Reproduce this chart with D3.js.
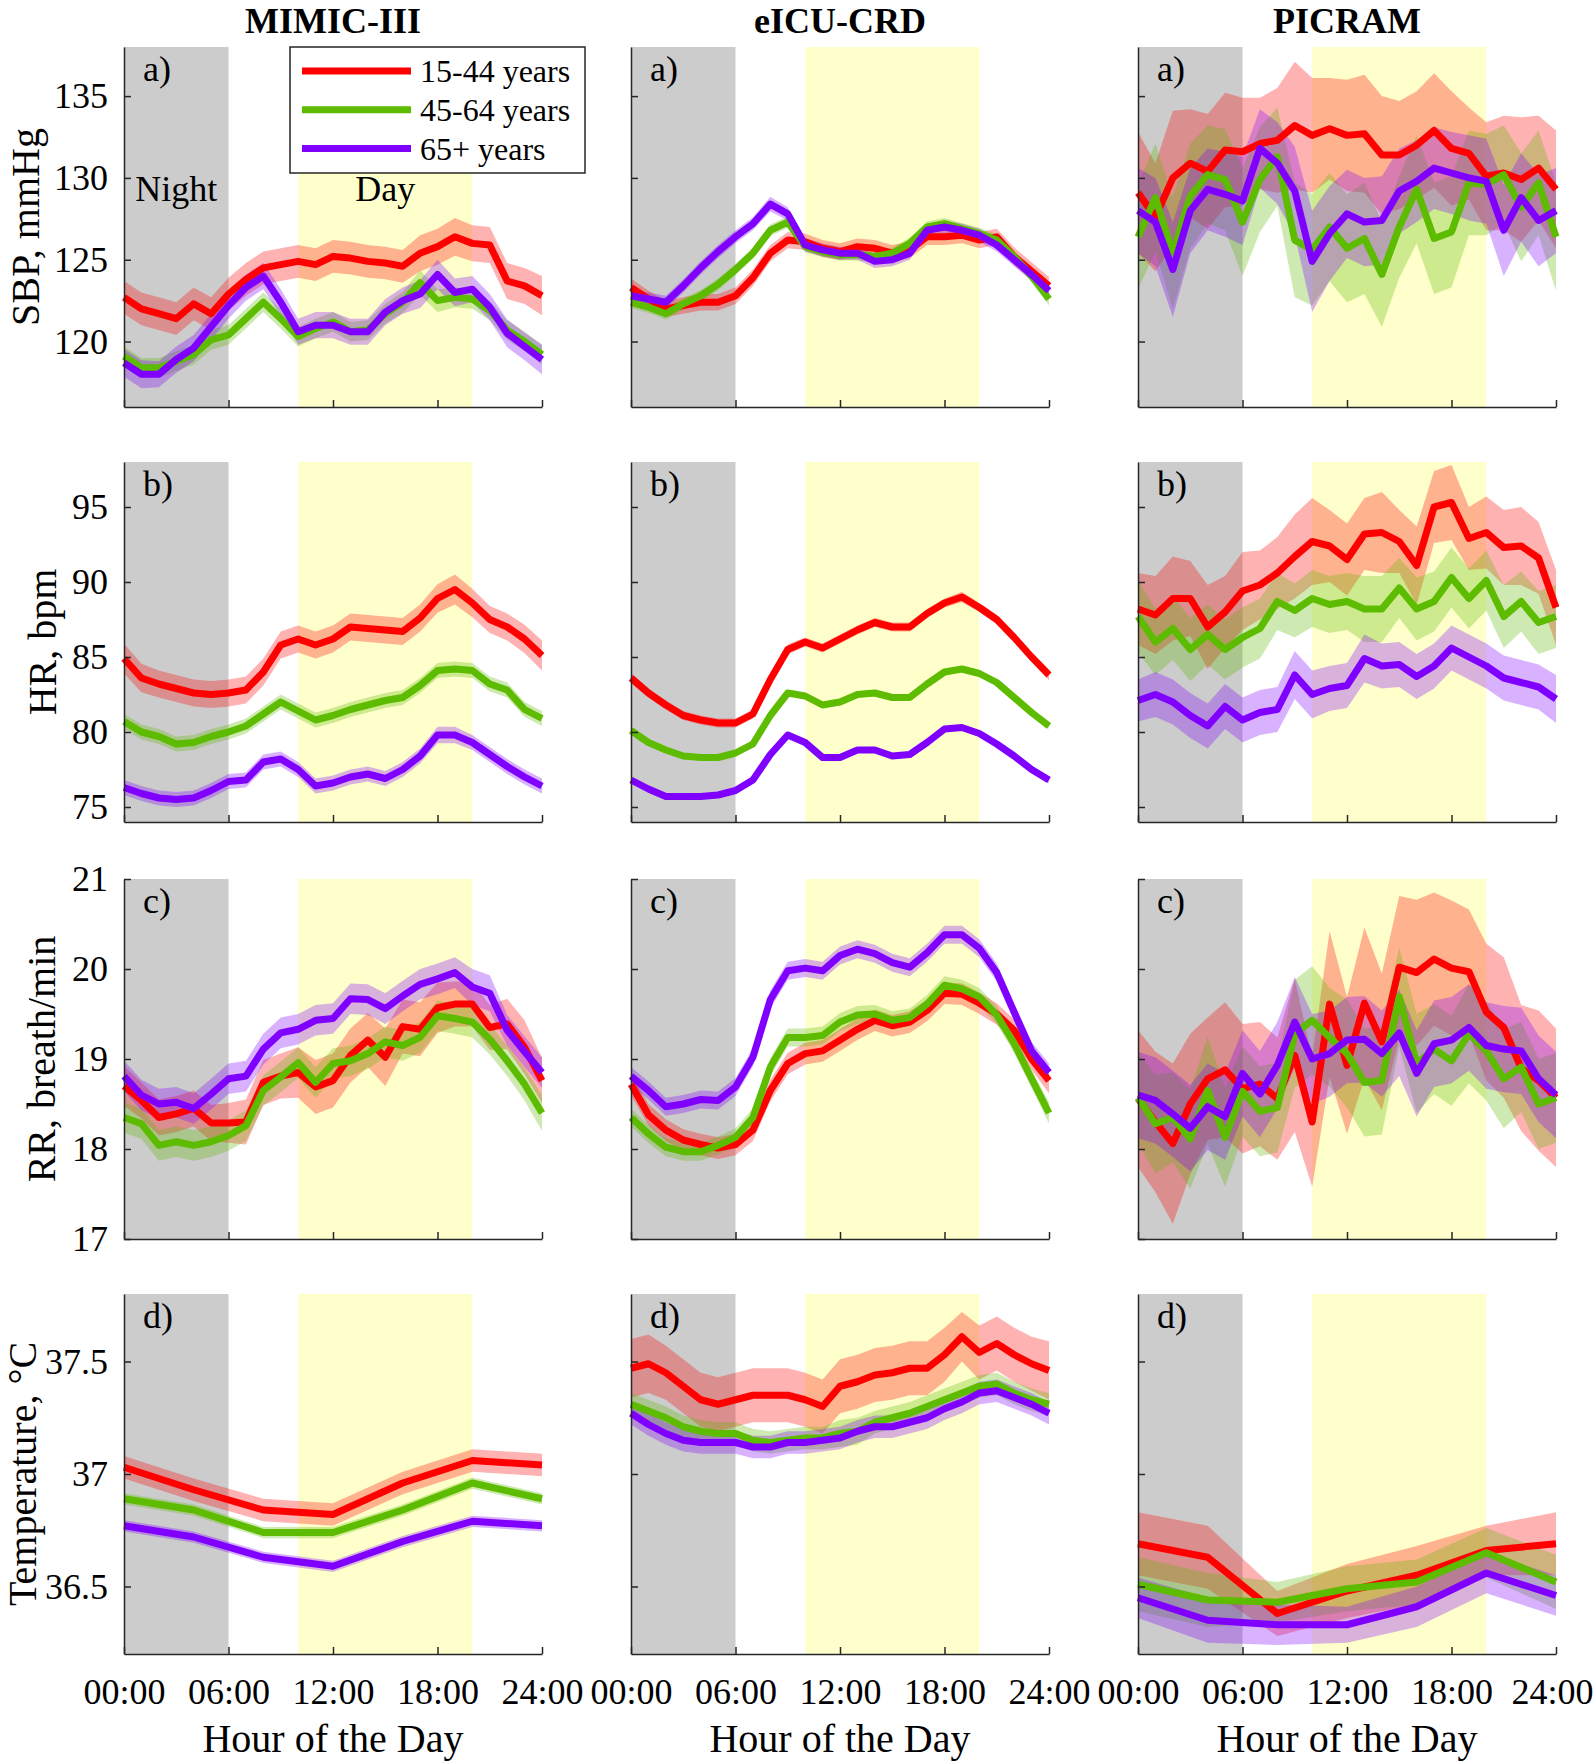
<!DOCTYPE html>
<html>
<head>
<meta charset="utf-8">
<script src="https://cdn.jsdelivr.net/npm/d3@7"></script>
<style>
  body { margin: 0; background: #fff; }
</style>
</head>
<body>
<script>
////////////////////////////////////////////////////////////////////////
// Data

let datasets = ["MIMIC-III", "eICU-CRD", "PICRAM"];
let ageGroups = ["15-44 years", "45-64 years", "65+ years"];
let vitalLabels = ["SBP, mmHg", "HR, bpm", "RR, breath/min", "Temperature, \u00B0C"];
let panelLetters = ["a)", "b)", "c)", "d)"];

let hours = [0,1,2,3,4,5,6,7,8,9,10,11,12,13,14,15,16,17,18,19,20,21,22,23,24];
let hours4 = [0,4,8,12,16,20,24];
let xTickValues = [0,6,12,18,24];
let xTickLabels = ["00:00","06:00","12:00","18:00","24:00"];
let nightSpan = [0,6];
let daySpan = [10,20];

let yDomains = [[116,138],[74,98],[17,21],[36.2,37.8]];
let yTicks = [[120,125,130,135],[75,80,85,90,95],[17,18,19,20,21],[36.5,37,37.5]];

// ---- SBP
let sbpMimic15 = [122.7,122.0,121.7,121.4,122.3,121.7,122.9,123.8,124.5,124.7,124.9,124.7,125.2,125.1,124.9,124.8,124.6,125.4,125.8,126.4,126.0,125.9,123.7,123.4,122.8];
let sbpMimic45 = [119.1,118.4,118.4,118.8,119.2,120.1,120.4,121.4,122.4,121.4,120.3,120.8,121.2,120.6,120.7,121.7,122.4,123.6,122.5,122.7,122.6,121.9,120.7,120.0,119.2];
let sbpMimic65 = [118.7,118.0,118.0,118.9,119.6,120.9,122.2,123.3,124.0,122.4,120.6,121.0,121.0,120.6,120.6,121.8,122.5,122.9,124.1,123.0,123.2,122.1,120.5,119.7,118.9];
let sbpMimic15Ci = [1.0,1.0,1.0,1.0,1.0,1.0,1.0,1.0,1.0,1.0,1.0,1.0,1.0,1.0,1.0,1.0,1.0,1.1,1.1,1.15,1.1,1.1,1.1,1.1,1.2];
let sbpMimic45Ci = [0.6,0.6,0.6,0.6,0.6,0.6,0.6,0.6,0.6,0.6,0.6,0.6,0.6,0.6,0.6,0.6,0.65,0.75,0.7,0.6,0.6,0.6,0.6,0.6,0.6];
let sbpMimic65Ci = [0.85,0.85,0.8,0.8,0.8,0.8,0.8,0.8,0.8,0.8,0.8,0.8,0.8,0.8,0.8,0.8,0.8,0.85,0.9,0.85,0.8,0.8,0.85,0.85,0.9];

let sbpEicu15 = [123.3,122.6,122.0,122.2,122.4,122.4,122.8,123.9,125.4,126.2,126.1,125.7,125.5,125.8,125.7,125.4,125.6,126.4,126.4,126.5,126.2,126.4,125.2,124.3,123.4];
let sbpEicu45 = [122.4,122.1,121.7,122.3,122.8,123.5,124.4,125.4,126.8,127.3,125.8,125.5,125.3,125.3,125.2,125.4,126.0,127.0,127.2,126.9,126.6,126.2,125.2,124.0,122.6];
let sbpEicu65 = [122.8,122.6,122.4,123.4,124.5,125.5,126.4,127.2,128.4,127.8,125.9,125.6,125.4,125.4,124.9,125.0,125.4,126.8,127.0,126.8,126.5,125.9,125.0,124.1,123.1];
let sbpEicu15Ci = [0.55,0.5,0.5,0.5,0.5,0.5,0.5,0.5,0.5,0.5,0.5,0.5,0.5,0.5,0.5,0.5,0.5,0.5,0.5,0.5,0.5,0.5,0.55,0.55,0.55];
let sbpEicu45Ci = [0.35,0.35,0.35,0.35,0.35,0.35,0.35,0.35,0.35,0.35,0.35,0.35,0.35,0.35,0.35,0.35,0.35,0.35,0.35,0.35,0.35,0.35,0.35,0.35,0.4];
let sbpEicu65Ci = [0.4,0.4,0.4,0.4,0.4,0.4,0.4,0.4,0.45,0.4,0.4,0.4,0.4,0.4,0.4,0.4,0.4,0.4,0.4,0.4,0.4,0.4,0.4,0.4,0.4];

let sbpPicram15 = [129.1,127.6,130.0,130.9,130.4,131.7,131.6,132.1,132.3,133.2,132.6,133.0,132.6,132.7,131.4,131.4,132.0,132.9,131.8,131.5,130.1,130.3,129.9,130.6,129.3];
let sbpPicram45 = [126.4,128.8,125.4,128.9,130.2,129.9,127.3,129.9,131.3,126.2,125.6,127.0,125.7,126.3,124.1,127.0,129.3,126.3,126.7,129.7,129.6,130.2,128.2,129.7,126.4];
let sbpPicram65 = [128.0,127.3,124.4,128.0,129.3,129.0,128.6,131.8,130.9,129.2,124.9,126.6,127.8,127.3,127.4,129.2,129.8,130.6,130.3,130.0,129.8,126.8,128.8,127.4,128.0];
let sbpPicram15Ci = [3.7,3.3,4.1,3.3,3.5,3.5,3.3,2.8,3.2,3.9,3.5,3.1,3.4,3.6,3.6,3.3,3.3,3.5,3.5,2.8,3.3,3.5,3.8,3.2,3.6];
let sbpPicram45Ci = [3.2,3.3,3.4,3.2,3.0,3.1,3.3,3.2,3.0,3.5,3.4,3.3,3.3,3.4,3.2,3.1,3.3,3.4,3.4,3.2,3.1,3.0,3.3,3.2,3.3];
let sbpPicram65Ci = [2.6,2.7,2.9,2.6,2.5,2.6,2.7,2.4,2.5,2.7,3.1,2.9,2.7,2.7,2.7,2.6,2.5,2.5,2.5,2.6,2.6,2.8,2.7,2.8,2.6];

// ---- HR
let hrMimic15 = [84.9,83.6,83.2,82.9,82.6,82.5,82.6,82.8,84.0,85.8,86.2,85.8,86.2,87.0,86.9,86.8,86.7,87.6,88.9,89.5,88.6,87.5,87.0,86.2,85.1];
let hrMimic45 = [80.7,80.0,79.7,79.2,79.3,79.7,80.0,80.4,81.2,82.0,81.4,80.8,81.1,81.5,81.8,82.1,82.3,83.1,84.1,84.2,84.1,83.2,82.8,81.5,80.9];
let hrMimic65 = [76.3,75.9,75.6,75.5,75.6,76.1,76.7,76.8,78.0,78.2,77.5,76.4,76.6,77.0,77.2,76.9,77.5,78.4,79.8,79.8,79.3,78.5,77.7,77.0,76.4];
let hrMimic15Ci = [1.0,0.95,0.9,0.9,0.9,0.9,0.9,0.9,0.9,0.9,0.9,0.9,0.9,0.9,0.9,0.9,0.9,0.9,0.95,1.0,0.95,0.9,0.9,0.95,1.0];
let hrMimic45Ci = [0.5,0.5,0.5,0.5,0.5,0.5,0.5,0.5,0.5,0.5,0.5,0.5,0.5,0.5,0.5,0.5,0.5,0.5,0.5,0.5,0.5,0.5,0.5,0.5,0.5];
let hrMimic65Ci = [0.5,0.5,0.5,0.5,0.5,0.5,0.5,0.5,0.5,0.5,0.5,0.5,0.5,0.5,0.5,0.5,0.5,0.5,0.55,0.55,0.5,0.5,0.5,0.5,0.5];

let hrEicu15 = [83.6,82.6,81.8,81.1,80.8,80.6,80.6,81.2,83.5,85.5,86.0,85.6,86.2,86.8,87.3,87.0,87.0,87.9,88.6,89.0,88.3,87.5,86.3,85.0,83.8];
let hrEicu45 = [80.1,79.3,78.8,78.4,78.3,78.3,78.6,79.2,81.1,82.6,82.4,81.8,82.0,82.5,82.6,82.3,82.3,83.2,84.0,84.2,83.9,83.3,82.3,81.3,80.4];
let hrEicu65 = [76.8,76.2,75.7,75.7,75.7,75.8,76.1,76.8,78.5,79.8,79.3,78.3,78.3,78.8,78.8,78.4,78.5,79.3,80.2,80.3,79.9,79.2,78.4,77.5,76.8];
let hrEicu15Ci = [0.35,0.3,0.3,0.3,0.3,0.3,0.3,0.3,0.3,0.35,0.3,0.3,0.3,0.3,0.3,0.3,0.3,0.3,0.3,0.35,0.3,0.3,0.3,0.3,0.35];
let hrEicu45Ci = [0.2,0.2,0.2,0.2,0.2,0.2,0.2,0.2,0.2,0.2,0.2,0.2,0.2,0.2,0.2,0.2,0.2,0.2,0.2,0.2,0.2,0.2,0.2,0.2,0.2];
let hrEicu65Ci = [0.2,0.2,0.2,0.2,0.2,0.2,0.2,0.2,0.2,0.2,0.2,0.2,0.2,0.2,0.2,0.2,0.2,0.2,0.2,0.2,0.2,0.2,0.2,0.2,0.2];

let hrPicram15 = [88.2,87.8,88.9,88.9,87.0,88.0,89.4,89.8,90.6,91.7,92.7,92.4,91.5,93.2,93.3,92.7,91.1,95.0,95.3,92.9,93.3,92.3,92.4,91.6,88.3];
let hrPicram45 = [87.7,86.0,86.9,85.5,86.5,85.5,86.3,86.9,88.7,88.1,88.9,88.5,88.7,88.2,88.2,89.6,88.2,88.7,90.3,88.9,90.1,87.7,88.7,87.3,87.7];
let hrPicram65 = [82.1,82.5,82.0,81.1,80.4,81.7,80.8,81.3,81.5,83.8,82.5,82.9,83.1,84.9,84.4,84.5,83.7,84.4,85.6,85.0,84.4,83.6,83.3,83.0,82.2];
let hrPicram15Ci = [2.4,2.6,2.8,2.5,2.8,2.4,2.6,2.3,2.4,2.8,2.9,2.4,2.4,2.4,2.7,2.1,2.6,2.4,2.5,2.1,2.4,2.5,2.6,2.4,2.5];
let hrPicram45Ci = [2.4,2.2,2.1,2.1,2.0,2.0,2.0,2.0,1.9,1.8,1.9,1.9,1.9,2.2,2.2,2.0,2.1,2.0,2.0,2.0,2.0,2.1,2.0,2.1,2.1];
let hrPicram65Ci = [1.4,1.5,1.5,1.5,1.5,1.5,1.5,1.5,1.5,1.6,1.6,1.5,1.5,1.6,1.5,1.5,1.5,1.5,1.5,1.5,1.5,1.5,1.5,1.5,1.6];

// ---- RR
let rrMimic15 = [18.70,18.54,18.35,18.39,18.45,18.29,18.29,18.30,18.74,18.81,18.85,18.69,18.76,19.04,19.21,19.02,19.36,19.33,19.57,19.61,19.61,19.35,19.39,19.13,18.76];
let rrMimic45 = [18.35,18.28,18.04,18.08,18.04,18.08,18.15,18.26,18.65,18.80,18.96,18.74,18.95,18.98,19.06,19.19,19.15,19.24,19.48,19.45,19.41,19.22,18.98,18.72,18.40];
let rrMimic65 = [18.81,18.60,18.50,18.52,18.45,18.61,18.78,18.81,19.11,19.29,19.33,19.43,19.45,19.67,19.66,19.56,19.70,19.83,19.89,19.96,19.80,19.73,19.32,19.08,18.85];
let rrMimic15Ci = [0.22,0.2,0.2,0.2,0.2,0.2,0.22,0.25,0.25,0.25,0.28,0.3,0.3,0.3,0.3,0.32,0.3,0.3,0.28,0.25,0.25,0.25,0.28,0.3,0.25];
let rrMimic45Ci = [0.17,0.17,0.17,0.17,0.17,0.17,0.17,0.17,0.17,0.17,0.17,0.17,0.17,0.17,0.17,0.17,0.17,0.17,0.17,0.17,0.17,0.17,0.17,0.18,0.2];
let rrMimic65Ci = [0.17,0.17,0.17,0.17,0.17,0.17,0.17,0.17,0.17,0.17,0.17,0.17,0.17,0.17,0.17,0.17,0.17,0.17,0.17,0.17,0.2,0.2,0.17,0.17,0.17];

let rrEicu15 = [18.72,18.38,18.21,18.10,18.05,18.01,18.05,18.21,18.65,18.95,19.06,19.09,19.21,19.33,19.43,19.37,19.41,19.54,19.73,19.72,19.62,19.50,19.32,19.00,18.76];
let rrEicu45 = [18.35,18.17,18.02,17.97,17.97,18.04,18.13,18.35,18.91,19.24,19.24,19.26,19.41,19.49,19.50,19.43,19.46,19.61,19.82,19.78,19.69,19.49,19.17,18.78,18.40];
let rrEicu65 = [18.81,18.65,18.47,18.50,18.55,18.54,18.69,19.02,19.66,19.98,20.01,19.98,20.15,20.22,20.17,20.07,20.02,20.18,20.38,20.38,20.23,19.96,19.52,19.09,18.85];
let rrEicu15Ci = [0.12,0.12,0.12,0.12,0.12,0.12,0.12,0.12,0.12,0.12,0.12,0.12,0.12,0.12,0.12,0.12,0.12,0.12,0.12,0.12,0.12,0.12,0.12,0.12,0.14];
let rrEicu45Ci = [0.1,0.1,0.1,0.1,0.1,0.1,0.1,0.1,0.1,0.1,0.1,0.1,0.1,0.1,0.1,0.1,0.1,0.1,0.1,0.1,0.1,0.1,0.1,0.1,0.12];
let rrEicu65Ci = [0.1,0.1,0.1,0.1,0.1,0.1,0.1,0.1,0.1,0.1,0.1,0.1,0.1,0.1,0.1,0.1,0.1,0.1,0.1,0.1,0.1,0.1,0.1,0.1,0.1];

let rrPicram15 = [18.56,18.30,18.06,18.50,18.78,18.88,18.67,18.72,18.56,19.04,18.30,19.61,18.93,19.62,19.19,20.02,19.96,20.11,20.01,19.97,19.52,19.35,18.90,18.76,18.57];
let rrPicram45 = [18.57,18.28,18.35,18.11,18.65,18.13,18.64,18.42,18.46,19.28,19.43,19.24,19.06,18.74,18.76,19.69,18.95,19.11,18.98,19.28,19.09,18.78,18.91,18.50,18.57];
let rrPicram65 = [18.60,18.54,18.39,18.23,18.47,18.36,18.84,18.61,18.93,19.41,19.00,19.06,19.21,19.22,19.06,19.29,18.84,19.17,19.21,19.35,19.15,19.11,19.09,18.78,18.60];
let rrPicram15Ci = [0.76,0.78,0.89,0.78,0.68,0.75,0.72,0.69,0.68,0.85,0.72,0.81,0.76,0.84,0.76,0.79,0.81,0.74,0.75,0.69,0.76,0.78,0.70,0.78,0.77];
let rrPicram45Ci = [0.5,0.55,0.5,0.55,0.6,0.55,0.5,0.5,0.5,0.6,0.6,0.55,0.6,0.6,0.6,0.55,0.55,0.5,0.5,0.55,0.55,0.55,0.5,0.5,0.5];
let rrPicram65Ci = [0.48,0.48,0.48,0.48,0.48,0.48,0.48,0.48,0.48,0.5,0.5,0.48,0.48,0.48,0.48,0.48,0.48,0.48,0.48,0.48,0.48,0.48,0.48,0.48,0.48];

// ---- Temperature
let tMimic15 = [37.03,36.93,36.84,36.82,36.96,37.06,37.04];
let tMimic45 = [36.89,36.84,36.74,36.74,36.84,36.96,36.89];
let tMimic65 = [36.77,36.72,36.63,36.59,36.70,36.79,36.77];
let tMimic15Ci = [0.05,0.05,0.05,0.05,0.05,0.05,0.05];
let tMimic45Ci = [0.025,0.025,0.025,0.025,0.025,0.025,0.025];
let tMimic65Ci = [0.025,0.025,0.025,0.025,0.025,0.025,0.025];

let tEicu15 = [37.47,37.49,37.45,37.39,37.33,37.31,37.33,37.35,37.35,37.35,37.33,37.30,37.39,37.41,37.44,37.45,37.47,37.47,37.53,37.61,37.54,37.58,37.53,37.49,37.46];
let tEicu45 = [37.31,37.28,37.25,37.21,37.19,37.18,37.18,37.15,37.14,37.15,37.16,37.16,37.18,37.19,37.23,37.25,37.27,37.30,37.33,37.36,37.39,37.40,37.36,37.33,37.31];
let tEicu65 = [37.27,37.22,37.18,37.15,37.14,37.14,37.14,37.12,37.12,37.14,37.14,37.15,37.16,37.19,37.21,37.21,37.23,37.25,37.29,37.32,37.36,37.37,37.34,37.31,37.27];
let tEicu15Ci = [0.13,0.13,0.12,0.12,0.12,0.12,0.12,0.12,0.12,0.12,0.12,0.12,0.12,0.12,0.12,0.12,0.12,0.12,0.12,0.11,0.12,0.12,0.12,0.12,0.13];
let tEicu45Ci = [0.05,0.05,0.05,0.05,0.05,0.05,0.05,0.05,0.05,0.05,0.05,0.05,0.06,0.06,0.05,0.05,0.05,0.05,0.05,0.05,0.05,0.05,0.05,0.05,0.05];
let tEicu65Ci = [0.05,0.05,0.05,0.05,0.05,0.05,0.05,0.05,0.05,0.05,0.05,0.05,0.05,0.05,0.05,0.05,0.05,0.05,0.05,0.05,0.05,0.05,0.05,0.05,0.05];

let tPicram15 = [36.69,36.63,36.38,36.48,36.55,36.66,36.69];
let tPicram45 = [36.51,36.44,36.43,36.49,36.52,36.65,36.52];
let tPicram65 = [36.45,36.35,36.33,36.33,36.41,36.56,36.46];
let tPicram15Ci = [0.14,0.14,0.1,0.12,0.13,0.11,0.14];
let tPicram45Ci = [0.12,0.12,0.09,0.1,0.1,0.11,0.12];
let tPicram65Ci = [0.09,0.1,0.09,0.08,0.09,0.09,0.09];

let colors = ["#ff0000", "#5dbb00", "#8000ff"];

////////////////////////////////////////////////////////////////////////
// panels: rows = vitals, columns = datasets

let grid = [
  [
    {x: hours,  mean: [sbpMimic15, sbpMimic45, sbpMimic65],   ci: [sbpMimic15Ci, sbpMimic45Ci, sbpMimic65Ci]},
    {x: hours,  mean: [sbpEicu15, sbpEicu45, sbpEicu65],      ci: [sbpEicu15Ci, sbpEicu45Ci, sbpEicu65Ci]},
    {x: hours,  mean: [sbpPicram15, sbpPicram45, sbpPicram65], ci: [sbpPicram15Ci, sbpPicram45Ci, sbpPicram65Ci]}
  ],
  [
    {x: hours,  mean: [hrMimic15, hrMimic45, hrMimic65],   ci: [hrMimic15Ci, hrMimic45Ci, hrMimic65Ci]},
    {x: hours,  mean: [hrEicu15, hrEicu45, hrEicu65],      ci: [hrEicu15Ci, hrEicu45Ci, hrEicu65Ci]},
    {x: hours,  mean: [hrPicram15, hrPicram45, hrPicram65], ci: [hrPicram15Ci, hrPicram45Ci, hrPicram65Ci]}
  ],
  [
    {x: hours,  mean: [rrMimic15, rrMimic45, rrMimic65],   ci: [rrMimic15Ci, rrMimic45Ci, rrMimic65Ci]},
    {x: hours,  mean: [rrEicu15, rrEicu45, rrEicu65],      ci: [rrEicu15Ci, rrEicu45Ci, rrEicu65Ci]},
    {x: hours,  mean: [rrPicram15, rrPicram45, rrPicram65], ci: [rrPicram15Ci, rrPicram45Ci, rrPicram65Ci]}
  ],
  [
    {x: hours4, mean: [tMimic15, tMimic45, tMimic65],   ci: [tMimic15Ci, tMimic45Ci, tMimic65Ci]},
    {x: hours,  mean: [tEicu15, tEicu45, tEicu65],      ci: [tEicu15Ci, tEicu45Ci, tEicu65Ci]},
    {x: hours4, mean: [tPicram15, tPicram45, tPicram65], ci: [tPicram15Ci, tPicram45Ci, tPicram65Ci]}
  ]
];

////////////////////////////////////////////////////////////////////////
// layout

let width = 1594;
let height = 1762;
let colX = [124, 631, 1138];
let rowY = [47, 462, 879, 1294];
let pw = 418;
let ph = 360;
let yLabelX = [26, 43, 42, 23];
let axisColor = "#262626";

let svg = d3.select("body")
  .append("svg")
  .attr("width", width).attr("height", height)
  .style("font-family", "'Liberation Serif', 'Times New Roman', serif");

let xScale = d3.scaleLinear().domain([0, 24]).range([0, pw]);

function styleAxis(g) {
  g.select(".domain").attr("stroke", axisColor).attr("stroke-width", 1.5);
  g.selectAll(".tick line").attr("stroke", axisColor).attr("stroke-width", 1.5);
  g.selectAll(".tick text").attr("fill", "#000").style("font-size", "36px")
    .style("font-family", "'Liberation Serif', 'Times New Roman', serif");
}

grid.forEach(function(row, r) {
  let yScale = d3.scaleLinear().domain(yDomains[r]).range([ph, 0]);

  row.forEach(function(cell, c) {
    let g = svg.append("g")
      .attr("transform", "translate(" + colX[c] + "," + rowY[r] + ")");

    // night / day shading
    g.append("rect")
      .attr("x", xScale(nightSpan[0])).attr("y", 0)
      .attr("width", xScale(nightSpan[1]) - xScale(nightSpan[0])).attr("height", ph)
      .attr("fill", "#cccccc");
    g.append("rect")
      .attr("x", xScale(daySpan[0])).attr("y", 0)
      .attr("width", xScale(daySpan[1]) - xScale(daySpan[0])).attr("height", ph)
      .attr("fill", "#ffffcc");

    // confidence bands
    cell.mean.forEach(function(m, i) {
      let area = d3.area()
        .x(function(d, j) { return xScale(cell.x[j]); })
        .y0(function(d, j) { return yScale(m[j] - cell.ci[i][j]); })
        .y1(function(d, j) { return yScale(m[j] + cell.ci[i][j]); });
      g.append("path").datum(m)
        .attr("d", area)
        .attr("fill", colors[i]).attr("fill-opacity", 0.3);
    });

    // mean lines
    cell.mean.forEach(function(m, i) {
      let line = d3.line()
        .x(function(d, j) { return xScale(cell.x[j]); })
        .y(function(d) { return yScale(d); });
      g.append("path").datum(m)
        .attr("d", line)
        .attr("fill", "none")
        .attr("stroke", colors[i]).attr("stroke-width", 7)
        .attr("stroke-linejoin", "round");
    });

    // axes (ticks pointing inward)
    let xAxis = d3.axisBottom(xScale)
      .tickValues(xTickValues)
      .tickSizeInner(-7).tickSizeOuter(0).tickPadding(24)
      .tickFormat(function(d, k) { return r === 3 ? xTickLabels[k] : ""; });
    let xg = g.append("g").attr("transform", "translate(0," + ph + ")").call(xAxis).call(styleAxis);
    if (c === 2) {
      // keep the last label inside the page edge
      xg.selectAll(".tick text").filter(function(d) { return d === 24; }).attr("dx", "-4");
    }

    let yAxis = d3.axisLeft(yScale)
      .tickValues(yTicks[r])
      .tickSizeInner(-7).tickSizeOuter(0).tickPadding(16)
      .tickFormat(function(d) { return c === 0 ? String(d) : ""; });
    g.append("g").call(yAxis).call(styleAxis);

    // panel letter
    g.append("text").text(panelLetters[r])
      .attr("x", 19).attr("y", 34)
      .style("font-size", "36px").attr("fill", "#000");

    if (r === 0 && c === 0) {
      g.append("text").text("Night")
        .attr("x", (xScale(nightSpan[0]) + xScale(nightSpan[1])) / 2).attr("y", 154)
        .attr("text-anchor", "middle").style("font-size", "36px");
      g.append("text").text("Day")
        .attr("x", (xScale(daySpan[0]) + xScale(daySpan[1])) / 2).attr("y", 154)
        .attr("text-anchor", "middle").style("font-size", "36px");
    }

    if (r === 3) {
      g.append("text").text("Hour of the Day")
        .attr("x", pw / 2).attr("y", 458)
        .attr("text-anchor", "middle").style("font-size", "40px");
    }
    if (r === 0) {
      g.append("text").text(datasets[c])
        .attr("x", pw / 2).attr("y", -14)
        .attr("text-anchor", "middle")
        .style("font-size", "36px").style("font-weight", "bold");
    }
  });

  // y axis label
  let cy = rowY[r] + ph / 2;
  svg.append("text").text(vitalLabels[r])
    .attr("transform", "translate(" + yLabelX[r] + "," + cy + ") rotate(-90)")
    .attr("text-anchor", "middle").attr("dy", "0.33em")
    .style("font-size", "40px");
});

////////////////////////////////////////////////////////////////////////
// legend

let legend = svg.append("g").attr("transform", "translate(290,47)");
legend.append("rect")
  .attr("x", 0).attr("y", 0).attr("width", 295).attr("height", 126)
  .attr("fill", "#fff").attr("stroke", axisColor).attr("stroke-width", 1.5);
ageGroups.forEach(function(name, i) {
  let yy = 24 + i * 38.8;
  legend.append("line")
    .attr("x1", 12).attr("x2", 121).attr("y1", yy).attr("y2", yy)
    .attr("stroke", colors[i]).attr("stroke-width", 7);
  legend.append("text").text(name)
    .attr("x", 130).attr("y", yy).attr("dy", "0.35em")
    .style("font-size", "32px");
});
</script>
</body>
</html>
